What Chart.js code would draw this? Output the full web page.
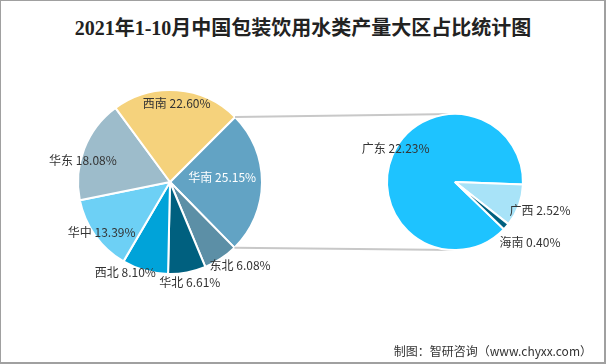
<!DOCTYPE html>
<html>
<head>
<meta charset="utf-8">
<script src="https://cdn.jsdelivr.net/npm/chart.js@4/dist/chart.umd.min.js"></script>
<style>
  html, body { margin: 0; padding: 0; background: #fff; }
  #wrap { position: relative; width: 606px; height: 364px; box-sizing: border-box;
          border-style: solid; border-color: #a0a0a0; border-width: 1px 2px 2px 1px; overflow: hidden; }
  #title { position: absolute; left: 0; top: 11px; width: 604px; text-align: center;
           font-family: "Liberation Serif", "Noto Sans CJK SC", serif; font-weight: bold;
           font-size: 20px; color: #222; white-space: nowrap; }
  #source { position: absolute; right: 12px; top: 341px; font-family: "Noto Sans CJK SC", sans-serif;
            font-size: 12px; color: #333; white-space: nowrap; }
  canvas { position: absolute; left: -1px; top: -1px; }
</style>
</head>
<body>
<div id="wrap">
  <div id="title">2021年1-10月中国包装饮用水类产量大区占比统计图</div>
  <canvas id="left" width="606" height="364"></canvas>
  <canvas id="right" width="606" height="364"></canvas>
  <div id="source">制图：智研咨询（www.chyxx.com）</div>
</div>
<script>
// ---- data ----
const regions = ['华南', '东北', '华北', '西北', '华中', '华东', '西南'];
const regionShares = [25.15, 6.08, 6.61, 8.10, 13.39, 18.08, 22.60];
const provinces = ['广东', '广西', '海南'];
const provinceShares = [22.23, 2.52, 0.40];

// ---- styles ----
const regionColors = ['#62A3C4', '#5C8FA6', '#00607F', '#00A3D9', '#6DD0F5', '#9DBCCB', '#F5D27C'];
const provinceColors = ['#1EC3FF', '#A8E3F8', '#00607F'];
// label placement: [angle offset (deg), radius factor]
const regionLabelPlace = [[-5.4, 0.57], [-6.5, 1.185], [-0.5, 1.11], [10.4, 1.10], [-1.1, 0.925], [-7.3, 0.975], [0.5, 0.86]];
const regionLabelColor = ['#ffffff', '#333', '#333', '#333', '#333', '#333', '#333'];
const provinceLabelPlace = [[6.2, 1.0], [-1.5, 1.32], [-2.3, 1.415]];

function labelPlugin(names, values, place, colors, font) {
  return {
    id: 'sliceLabels',
    afterDatasetsDraw(chart) {
      const ctx = chart.ctx;
      const arcs = chart.getDatasetMeta(0).data;
      ctx.save();
      ctx.font = font;
      ctx.textAlign = 'center';
      ctx.textBaseline = 'middle';
      arcs.forEach((arc, i) => {
        const mid = (arc.startAngle + arc.endAngle) / 2 + place[i][0] * Math.PI / 180;
        const r = arc.outerRadius * place[i][1];
        const x = arc.x + r * Math.cos(mid);
        const y = arc.y + r * Math.sin(mid);
        ctx.fillStyle = colors[i];
        ctx.fillText(names[i] + ' ' + values[i].toFixed(2) + '%', x, y);
      });
      ctx.restore();
    }
  };
}

const leftChart = new Chart(document.getElementById('left'), {
  type: 'pie',
  data: { labels: regions, datasets: [{ data: regionShares, backgroundColor: regionColors,
          borderColor: '#ffffff', borderWidth: 2 }] },
  options: {
    responsive: false, animation: false, rotation: 45,
    layout: { padding: { left: 77, right: 343, top: 89, bottom: 89 } },
    plugins: { legend: { display: false }, tooltip: { enabled: false } }
  },
  plugins: [labelPlugin(regions, regionShares, regionLabelPlace, regionLabelColor,
            '12px "Noto Sans CJK SC", sans-serif')]
});

const connector = {
  id: 'connector',
  beforeDatasetsDraw(chart) {
    const src = leftChart.getDatasetMeta(0).data[0];
    const dst = chart.getDatasetMeta(0).data[0];
    const ctx = chart.ctx;
    ctx.save();
    ctx.strokeStyle = '#c8c8c8';
    ctx.lineWidth = 2;
    ctx.beginPath();
    ctx.moveTo(src.x + src.outerRadius * Math.cos(src.startAngle), src.y + src.outerRadius * Math.sin(src.startAngle));
    ctx.lineTo(dst.x, dst.y - dst.outerRadius);
    ctx.moveTo(src.x + src.outerRadius * Math.cos(src.endAngle), src.y + src.outerRadius * Math.sin(src.endAngle));
    ctx.lineTo(dst.x, dst.y + dst.outerRadius);
    ctx.stroke();
    ctx.restore();
  }
};

new Chart(document.getElementById('right'), {
  type: 'pie',
  data: { labels: provinces, datasets: [{ data: provinceShares, backgroundColor: provinceColors,
          borderColor: '#ffffff', borderWidth: 2 }] },
  options: {
    responsive: false, animation: false, rotation: 134,
    layout: { padding: { left: 386, right: 82, top: 113, bottom: 113 } },
    plugins: { legend: { display: false }, tooltip: { enabled: false } }
  },
  plugins: [connector, labelPlugin(provinces, provinceShares, provinceLabelPlace, ['#333', '#333', '#333'],
            '12px "Noto Sans CJK SC", sans-serif')]
});
</script>
</body>
</html>
